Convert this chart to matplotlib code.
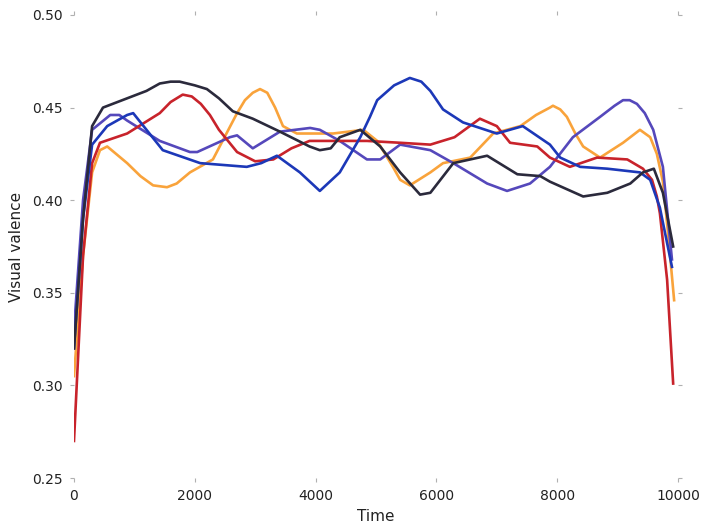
import matplotlib
matplotlib.use("Agg")
import matplotlib.pyplot as plt

# Series (time, visual valence)
black_x = [0, 150, 300, 480, 880, 1200, 1420, 1600, 1750, 2000, 2200, 2400, 2630, 2960, 3410,
           3900, 4070, 4250, 4400, 4740, 5070, 5400, 5730, 5900, 6280, 6840, 7340, 7720, 7880,
           8430, 8830, 9210, 9420, 9600, 9750, 9920]
black_y = [0.320, 0.390, 0.440, 0.450, 0.455, 0.459, 0.463, 0.464, 0.464, 0.462, 0.460, 0.455,
           0.448, 0.444, 0.437, 0.429, 0.427, 0.428, 0.434, 0.438, 0.429, 0.415, 0.403, 0.404,
           0.420, 0.424, 0.414, 0.413, 0.410, 0.402, 0.404, 0.409, 0.415, 0.417, 0.404, 0.375]

red_x = [0, 150, 300, 430, 880, 1420, 1600, 1800, 1950, 2100, 2250, 2400, 2700, 3000, 3300,
         3600, 3900, 4400, 4850, 5400, 5900, 6300, 6720, 7000, 7220, 7670, 7880, 8210, 8660,
         9160, 9420, 9570, 9650, 9700, 9820, 9920]
red_y = [0.270, 0.370, 0.420, 0.431, 0.436, 0.447, 0.453, 0.457, 0.456, 0.452, 0.446, 0.438,
         0.426, 0.421, 0.422, 0.428, 0.432, 0.432, 0.432, 0.431, 0.430, 0.434, 0.444, 0.440,
         0.431, 0.429, 0.423, 0.418, 0.423, 0.422, 0.417, 0.411, 0.402, 0.393, 0.357, 0.301]

orange_x = [0, 150, 300, 430, 550, 880, 1100, 1310, 1540, 1700, 1920, 2300, 2700, 2830, 2960,
            3080, 3200, 3330, 3460, 3690, 3910, 4290, 4790, 5020, 5280, 5400, 5560, 5900, 6110,
            6560, 6940, 7390, 7650, 7880, 7930, 8050, 8160, 8300, 8430, 8710, 9090, 9370, 9540,
            9650, 9750, 9830, 9936]
orange_y = [0.305, 0.370, 0.415, 0.427, 0.429, 0.420, 0.413, 0.408, 0.407, 0.409, 0.415, 0.422,
            0.447, 0.454, 0.458, 0.460, 0.458, 0.450, 0.440, 0.436, 0.436, 0.436, 0.438, 0.432,
            0.418, 0.411, 0.408, 0.415, 0.420, 0.423, 0.436, 0.440, 0.446, 0.450, 0.451, 0.449,
            0.445, 0.436, 0.429, 0.423, 0.431, 0.438, 0.434, 0.425, 0.410, 0.384, 0.346]

purple_x = [0, 150, 300, 600, 750, 880, 1420, 1920, 2040, 2580, 2700, 2960, 3410, 3910, 4070,
            4400, 4850, 5070, 5400, 5900, 6280, 6840, 7170, 7550, 7880, 8260, 8710, 8950, 9090,
            9200, 9320, 9450, 9590, 9750, 9900]
purple_y = [0.330, 0.400, 0.438, 0.446, 0.446, 0.443, 0.432, 0.426, 0.426, 0.434, 0.435, 0.428,
            0.437, 0.439, 0.438, 0.432, 0.422, 0.422, 0.430, 0.427, 0.420, 0.409, 0.405, 0.409,
            0.418, 0.434, 0.445, 0.451, 0.454, 0.454, 0.452, 0.447, 0.438, 0.418, 0.368]

blue_x = [0, 150, 300, 550, 880, 980, 1470, 2090, 2860, 3100, 3360, 3740, 4070, 4400, 4740,
          4900, 5020, 5300, 5560, 5750, 5900, 6110, 6440, 7000, 7430, 7880, 8050, 8380, 8830,
          9370, 9540, 9700, 9900]
blue_y = [0.320, 0.390, 0.430, 0.440, 0.446, 0.447, 0.427, 0.420, 0.418, 0.420, 0.424, 0.415,
          0.405, 0.415, 0.434, 0.445, 0.454, 0.462, 0.466, 0.464, 0.459, 0.449, 0.442, 0.436,
          0.440, 0.430, 0.423, 0.418, 0.417, 0.415, 0.411, 0.396, 0.364]

fig = plt.figure(figsize=(7.02, 5.31), dpi=100)
ax = fig.add_axes([0.1054, 0.0998, 0.8604, 0.872])

lw = 1.9
ax.plot(orange_x, orange_y, color="#f9a33b", linewidth=lw)
ax.plot(purple_x, purple_y, color="#5548bb", linewidth=lw)
ax.plot(red_x, red_y, color="#c8232b", linewidth=lw)
ax.plot(blue_x, blue_y, color="#1c38b8", linewidth=lw)
ax.plot(black_x, black_y, color="#2b2a3c", linewidth=lw)

ax.set_xlim(0, 10000)
ax.set_ylim(0.25, 0.50)
ax.set_xticks([0, 2000, 4000, 6000, 8000, 10000])
ax.set_yticks([0.25, 0.30, 0.35, 0.40, 0.45, 0.50])
ax.set_yticklabels(["0.25", "0.30", "0.35", "0.40", "0.45", "0.50"])

for s in ax.spines.values():
    s.set_visible(False)
ax.tick_params(direction="out", length=3, width=0.8, color="#b0b0b0",
               labelsize=10, labelcolor="#222222", top=True, right=True, pad=5)

ax.set_xlabel("Time", fontsize=11, color="#222222", labelpad=4)
ax.set_ylabel("Visual valence", fontsize=11, color="#222222", labelpad=6)

fig.savefig("out.png", dpi=100, facecolor="white")
